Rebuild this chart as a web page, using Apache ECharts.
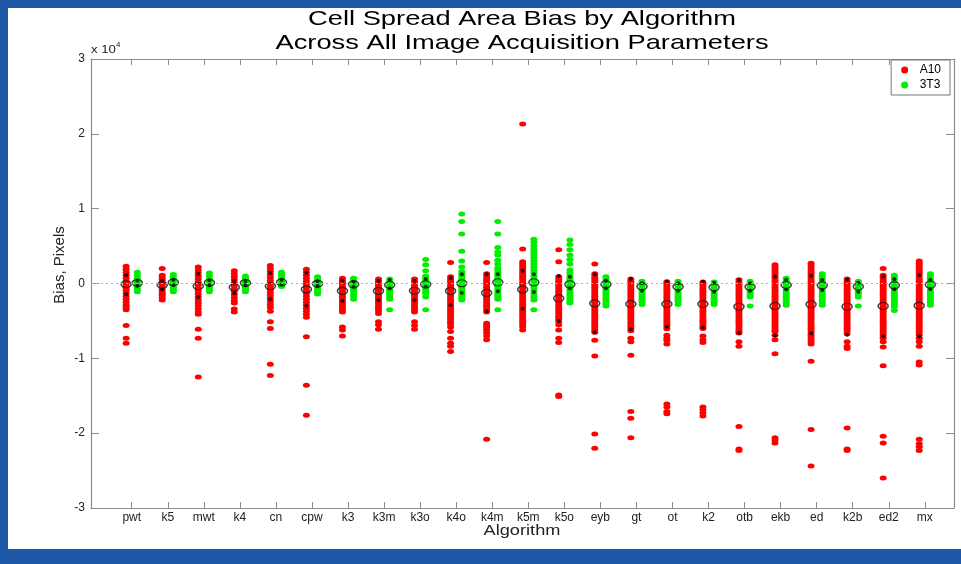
<!DOCTYPE html>
<html>
<head>
<meta charset="utf-8">
<script src="https://cdn.jsdelivr.net/npm/echarts@6/dist/echarts.min.js"></script>
<style>
  html, body { margin: 0; padding: 0; }
  #chart { width: 961px; height: 564px; }
</style>
</head>
<body>
<div id="chart"></div>
<script>
// algorithms along the x axis
var categories = ['pwt', 'k5', 'mwt', 'k4', 'cn', 'cpw', 'k3', 'k3m', 'k3o', 'k4o', 'k4m', 'k5m',
  'k5o', 'eyb', 'gt', 'ot', 'k2', 'otb', 'ekb', 'ed', 'k2b', 'ed2', 'mx'];

// bias (pixels) of every A10 run, one list per algorithm
var a10Bias = [
  [2300, 1900, 1500, 1100, 700, 300, 0, -300, -600, -900, -1300, -1700, -2100, -2500, -2900, -3200, -3500, -5600, -7300, -8000],
  [2000, 1100, 800, 500, 200, -100, -400, -700, -1000, -1300, -1600, -1900, -2200],
  [2200, 1800, 1400, 1000, 600, 200, -200, -600, -1000, -1400, -1800, -2200, -2600, -3000, -3400, -3800, -4100, -6100, -7300, -12500],
  [1700, 1300, 900, 500, 100, -300, -700, -1100, -1500, -1900, -2300, -2600, -3400, -3800],
  [2400, 2000, 1600, 1200, 800, 400, 0, -400, -800, -1200, -1600, -2000, -2400, -2800, -3200, -3700, -5100, -6000, -10800, -12300],
  [1900, 1500, 1100, 700, 300, -100, -500, -900, -1300, -1700, -2100, -2500, -2900, -3300, -3700, -4100, -4500, -7100, -13600, -17600],
  [700, 400, 100, -200, -500, -800, -1100, -1400, -1700, -2000, -2300, -2600, -2900, -3200, -3500, -3800, -5800, -6200, -7000],
  [600, 300, 0, -300, -600, -900, -1200, -1500, -1800, -2100, -2400, -2700, -3000, -3300, -3600, -4000, -5100, -5500, -6100],
  [600, 300, 0, -300, -600, -900, -1200, -1500, -1800, -2100, -2400, -2700, -3000, -3300, -3600, -3800, -5100, -5600, -6100],
  [2800, 900, 600, 300, 0, -300, -600, -900, -1200, -1500, -1800, -2100, -2400, -2700, -3000, -3300, -3600, -3900, -4200, -4500, -4800, -5100, -5400, -5800, -6400, -7300, -8000, -8400, -9100],
  [2800, 1300, 1000, 700, 400, 100, -200, -500, -800, -1100, -1400, -1700, -2000, -2300, -2600, -2900, -3200, -3500, -3800, -5300, -5600, -5900, -6200, -6600, -7000, -7500, -20800],
  [21300, 4600, 2900, 2600, 2300, 2000, 1700, 1400, 1100, 800, 500, 200, -100, -400, -700, -1000, -1300, -1600, -1900, -2200, -2500, -2800, -3100, -3400, -3700, -4000, -4300, -4600, -4900, -5200, -5500, -5800, -6200],
  [4500, 2900, 900, 600, 300, 0, -300, -600, -900, -1200, -1500, -1800, -2100, -2400, -2700, -3000, -3300, -3600, -3900, -4200, -4500, -4800, -5100, -5500, -6200, -7300, -7900, -14900, -15100],
  [2600, 1300, 1000, 700, 400, 100, -200, -500, -800, -1100, -1400, -1700, -2000, -2300, -2600, -2900, -3200, -3500, -3800, -4100, -4400, -4700, -5000, -5300, -5600, -5900, -6200, -6500, -7600, -9700, -20100, -22000],
  [600, 300, 0, -300, -600, -900, -1200, -1500, -1800, -2100, -2400, -2700, -3000, -3300, -3600, -3900, -4200, -4500, -4800, -5100, -5400, -5700, -6000, -6300, -7300, -7800, -9600, -17100, -18000, -20600],
  [250, -50, -350, -650, -950, -1250, -1550, -1850, -2150, -2450, -2750, -3050, -3350, -3650, -3950, -4250, -4550, -4850, -5150, -5450, -5750, -6050, -6900, -7300, -7600, -8100, -16100, -16500, -17100, -17400],
  [200, -100, -400, -700, -1000, -1300, -1600, -1900, -2200, -2500, -2800, -3100, -3400, -3700, -4000, -4300, -4600, -4900, -5200, -5500, -5800, -6000, -7000, -7500, -7900, -16500, -16900, -17300, -17700],
  [500, 200, -100, -400, -700, -1000, -1300, -1600, -1900, -2200, -2500, -2800, -3100, -3400, -3700, -4000, -4300, -4600, -4900, -5200, -5500, -5800, -6100, -6400, -6600, -7800, -8400, -19100, -22100, -22300],
  [2500, 2200, 1900, 1600, 1300, 1000, 700, 400, 100, -200, -500, -800, -1100, -1400, -1700, -2000, -2300, -2600, -2900, -3200, -3500, -3800, -4100, -4400, -4700, -5000, -5300, -5600, -5900, -6200, -6400, -6900, -7500, -9400, -20600, -20900, -21300],
  [2700, 2400, 2100, 1800, 1500, 1200, 900, 600, 300, 0, -300, -600, -900, -1200, -1500, -1800, -2100, -2400, -2700, -3000, -3300, -3600, -3900, -4200, -4500, -4800, -5100, -5400, -5700, -6000, -6300, -6600, -6900, -7200, -7500, -7800, -8100, -10400, -19500, -24400],
  [600, 300, 0, -300, -600, -900, -1200, -1500, -1800, -2100, -2400, -2700, -3000, -3300, -3600, -3900, -4200, -4500, -4800, -5100, -5400, -5700, -6000, -6300, -6700, -7800, -8400, -8700, -19300, -22100, -22300],
  [2000, 1100, 800, 500, 200, -100, -400, -700, -1000, -1300, -1600, -1900, -2200, -2500, -2800, -3100, -3400, -3700, -4000, -4300, -4600, -4900, -5200, -5500, -5800, -6100, -6400, -6700, -7000, -7300, -7800, -8500, -11000, -20400, -21300, -26000],
  [3000, 2700, 2400, 2100, 1800, 1500, 1200, 900, 600, 300, 0, -300, -600, -900, -1200, -1500, -1800, -2100, -2400, -2700, -3000, -3300, -3600, -3900, -4200, -4500, -4800, -5100, -5400, -5700, -6000, -6300, -6600, -6900, -7300, -7800, -8400, -10500, -10900, -20800, -21400, -21800, -22300]
];

// bias (pixels) of every 3T3 run
var t3Bias = [
  [1500, 1100, 700, 400, 100, -200, -500, -800, -1100],
  [1200, 900, 600, 300, 0, -300, -600, -900, -1100],
  [1400, 1000, 600, 300, 0, -300, -600, -900, -1100],
  [1000, 700, 400, 100, -200, -500, -800, -1100],
  [1500, 1200, 900, 600, 300, 0, -300, -400],
  [900, 600, 300, 0, -300, -600, -900, -1200, -1400],
  [700, 400, 100, -200, -500, -800, -1100, -1400, -1700, -2100],
  [600, 300, 0, -300, -600, -900, -1200, -1500, -1800, -2100, -3500],
  [3200, 2500, 1700, 1000, 700, 400, 100, -200, -500, -800, -1100, -1400, -1800, -3500],
  [9300, 8300, 6600, 4300, 3000, 2200, 1600, 1300, 1000, 700, 400, 100, -200, -500, -800, -1100, -1400, -1700, -2000, -2200],
  [8300, 6600, 4800, 4200, 3800, 3100, 2600, 2100, 1800, 1500, 1200, 900, 600, 300, 0, -300, -600, -900, -1200, -1500, -1800, -2100, -3500],
  [5900, 5500, 5000, 4600, 4200, 3800, 3400, 3000, 2600, 2200, 1800, 1400, 1000, 600, 200, -200, -600, -1000, -1400, -1800, -2200, -3500],
  [5800, 5200, 4500, 3800, 3200, 2600, 1800, 1400, 1000, 700, 400, 100, -200, -500, -800, -1100, -1400, -1700, -2000, -2300, -2600],
  [900, 600, 300, 0, -300, -600, -900, -1200, -1500, -1800, -2100, -2400, -2700, -3000],
  [300, 0, -300, -600, -900, -1200, -1500, -1800, -2100, -2400, -2800],
  [300, 0, -300, -600, -900, -1200, -1500, -1800, -2100, -2400, -2800],
  [200, -100, -400, -700, -1000, -1300, -1600, -1900, -2200, -2500, -2800],
  [300, 0, -300, -600, -900, -1200, -1500, -1800, -3000],
  [700, 400, 100, -200, -500, -800, -1100, -1400, -1700, -2000, -2300, -2600, -2900],
  [1300, 1000, 700, 400, 100, -200, -500, -800, -1100, -1400, -1700, -2000, -2300, -2600, -2900],
  [300, 0, -300, -600, -900, -1200, -1500, -1800, -3000],
  [1100, 800, 500, 200, -100, -400, -700, -1000, -1300, -1600, -1900, -2200, -2500, -2800, -3100, -3600],
  [1300, 1000, 700, 400, 100, -200, -500, -800, -1100, -1400, -1700, -2000, -2300, -2600, -2900]
];

// summary markers: open circle (centre) and two black dots (upper / lower)
var a10Mid = [-100, -200, -340, -510, -340, -780, -980, -1000, -960, -1000, -1250, -800, -1980, -2650, -2740, -2740, -2740, -3100, -3010, -2780, -3100, -3010, -2970];
var a10Hi = [1090, 380, 1310, 290, 1400, 1450, 400, 330, 330, 730, 1230, 1710, 1000, 1230, 600, 240, 240, 470, 950, 1050, 520, 950, 1140];
var a10Lo = [-1450, -780, -1800, -1310, -2110, -2960, -2340, -2200, -2200, -2870, -3710, -3370, -5010, -6520, -6120, -5770, -5880, -6620, -6950, -6660, -6850, -7050, -7050];
var t3Mid = [70, 160, 110, 70, 160, -30, -110, -200, -110, 30, 160, 160, -110, -110, -400, -430, -510, -450, -200, -250, -400, -250, -150];
var t3Hi = [400, 500, 450, 350, 500, 300, 250, 470, 600, 1230, 1230, 1230, 910, 380, 30, 30, 110, 30, 470, 470, 100, 560, 470];
var t3Lo = [-300, -200, -250, -250, -150, -350, -450, -650, -430, -1230, -1050, -1140, -650, -650, -960, -960, -1090, -960, -780, -870, -1090, -780, -740];

var RED_OFF = -0.155, GREEN_OFF = 0.155;
var ellipse = 'path://M0,5a5,5 0 1,0 10,0a5,5 0 1,0 -10,0z';
var tickPos = categories.map(function (c, i) { return i + 1; });

function spread(lists, off) {
  var out = [];
  lists.forEach(function (vals, i) {
    vals.forEach(function (v) { out.push([i + 1 + off, v]); });
  });
  return out;
}
function single(vals, off) {
  return vals.map(function (v, i) { return [i + 1 + off, v]; });
}

var chart = echarts.init(document.getElementById('chart'));

var axisGrey = '#8c8c8c';
var font = 'Liberation Sans, Arial, sans-serif';

var xBase = {
  type: 'value',
  min: -0.13,
  max: 23.81,
  axisLine: { onZero: false, lineStyle: { color: axisGrey, width: 1.2 } },
  axisTick: { inside: true, length: 6, customValues: tickPos, lineStyle: { color: axisGrey } },
  splitLine: { show: false }
};
var yBase = {
  type: 'value',
  min: -30000,
  max: 30000,
  interval: 10000,
  axisLine: { show: true, onZero: false, lineStyle: { color: axisGrey, width: 1.2 } },
  axisTick: { show: true, inside: true, length: 8, lineStyle: { color: axisGrey } },
  splitLine: { show: false }
};

chart.setOption({
  backgroundColor: '#1d58a6',
  animation: false,
  graphic: [
    { type: 'rect', z: -10, shape: { x: 8, y: 8, width: 953, height: 541 }, style: { fill: '#ffffff' } },
    { type: 'text', x: 522, y: 7, scaleX: 1.3, z: 10,
      style: { text: 'Cell Spread Area Bias by Algorithm\nAcross All Image Acquisition Parameters',
        x: 0, y: 0, textAlign: 'center', textVerticalAlign: 'top',
        font: '21px Liberation Sans, Arial, sans-serif', lineHeight: 24, fill: '#000' } },
    { type: 'text', x: 91, y: 44, scaleX: 1.2, z: 10, style: { text: 'x 10', font: '11px Liberation Sans, Arial, sans-serif', fill: '#222' } },
    { type: 'text', x: 116, y: 41, z: 10, style: { text: '4', font: '8px Liberation Sans, Arial, sans-serif', fill: '#222' } },
    { type: 'text', x: 522, y: 531, scaleX: 1.3, z: 10,
      style: { text: 'Algorithm', textAlign: 'center', textVerticalAlign: 'middle',
        font: '14px Liberation Sans, Arial, sans-serif', fill: '#222' } },
    { type: 'text', x: 60, y: 265, rotation: Math.PI / 2, z: 10,
      style: { text: 'Bias, Pixels', textAlign: 'center', textVerticalAlign: 'middle',
        font: '15px Liberation Sans, Arial, sans-serif', fill: '#222' } }
  ],
  grid: { left: 91, right: 7, top: 59, bottom: 56, containLabel: false },
  legend: {
    data: ['A10', '3T3'],
    orient: 'vertical',
    right: 11,
    top: 60,
    icon: 'circle',
    itemWidth: 20,
    itemHeight: 7,
    itemGap: 3,
    padding: [4, 9, 4, 10],
    backgroundColor: '#fff',
    borderColor: '#777',
    borderWidth: 1,
    borderRadius: 0,
    textStyle: { fontSize: 12, fontFamily: font, color: '#000' }
  },
  xAxis: [
    Object.assign({}, xBase, {
      position: 'bottom',
      axisLabel: {
        customValues: tickPos,
        margin: 4,
        fontSize: 12,
        fontFamily: font,
        color: '#222',
        formatter: function (v) { return categories[Math.round(v) - 1] || ''; }
      }
    }),
    Object.assign({}, xBase, { position: 'top', axisLabel: { show: false } })
  ],
  yAxis: [
    Object.assign({}, yBase, {
      position: 'left',
      axisLabel: {
        margin: 6,
        fontSize: 12,
        fontFamily: font,
        color: '#222',
        formatter: function (v) { return String(v / 10000); }
      }
    }),
    Object.assign({}, yBase, { position: 'right', axisLabel: { show: false } })
  ],
  series: [
    {
      name: 'zero',
      type: 'scatter',
      data: [],
      silent: true,
      markLine: {
        silent: true,
        symbol: 'none',
        label: { show: false },
        lineStyle: { color: '#b0b0b0', type: [2, 3], width: 1 },
        data: [{ yAxis: 0 }]
      }
    },
    {
      name: 'A10',
      type: 'scatter',
      symbol: ellipse,
      symbolSize: [7, 5],
      itemStyle: { color: '#ff0000', opacity: 1 },
      data: spread(a10Bias, RED_OFF)
    },
    {
      name: '3T3',
      type: 'scatter',
      symbol: ellipse,
      symbolSize: [7, 5],
      itemStyle: { color: '#00ee00', opacity: 1 },
      data: spread(t3Bias, GREEN_OFF)
    },
    {
      name: 'a10 range',
      type: 'scatter',
      symbol: 'circle',
      symbolSize: 4,
      itemStyle: { color: '#000' },
      data: single(a10Hi, RED_OFF).concat(single(a10Lo, RED_OFF))
    },
    {
      name: '3t3 range',
      type: 'scatter',
      symbol: 'circle',
      symbolSize: 4,
      itemStyle: { color: '#000' },
      data: single(t3Hi, GREEN_OFF).concat(single(t3Lo, GREEN_OFF))
    },
    {
      name: 'a10 centre',
      type: 'scatter',
      symbol: ellipse,
      symbolSize: [10, 7],
      itemStyle: { color: 'rgba(0,0,0,0)', borderColor: '#111', borderWidth: 1.3 },
      data: single(a10Mid, RED_OFF)
    },
    {
      name: '3t3 centre',
      type: 'scatter',
      symbol: ellipse,
      symbolSize: [10, 7],
      itemStyle: { color: 'rgba(0,0,0,0)', borderColor: '#111', borderWidth: 1.3 },
      data: single(t3Mid, GREEN_OFF)
    }
  ]
});
</script>
</body>
</html>
